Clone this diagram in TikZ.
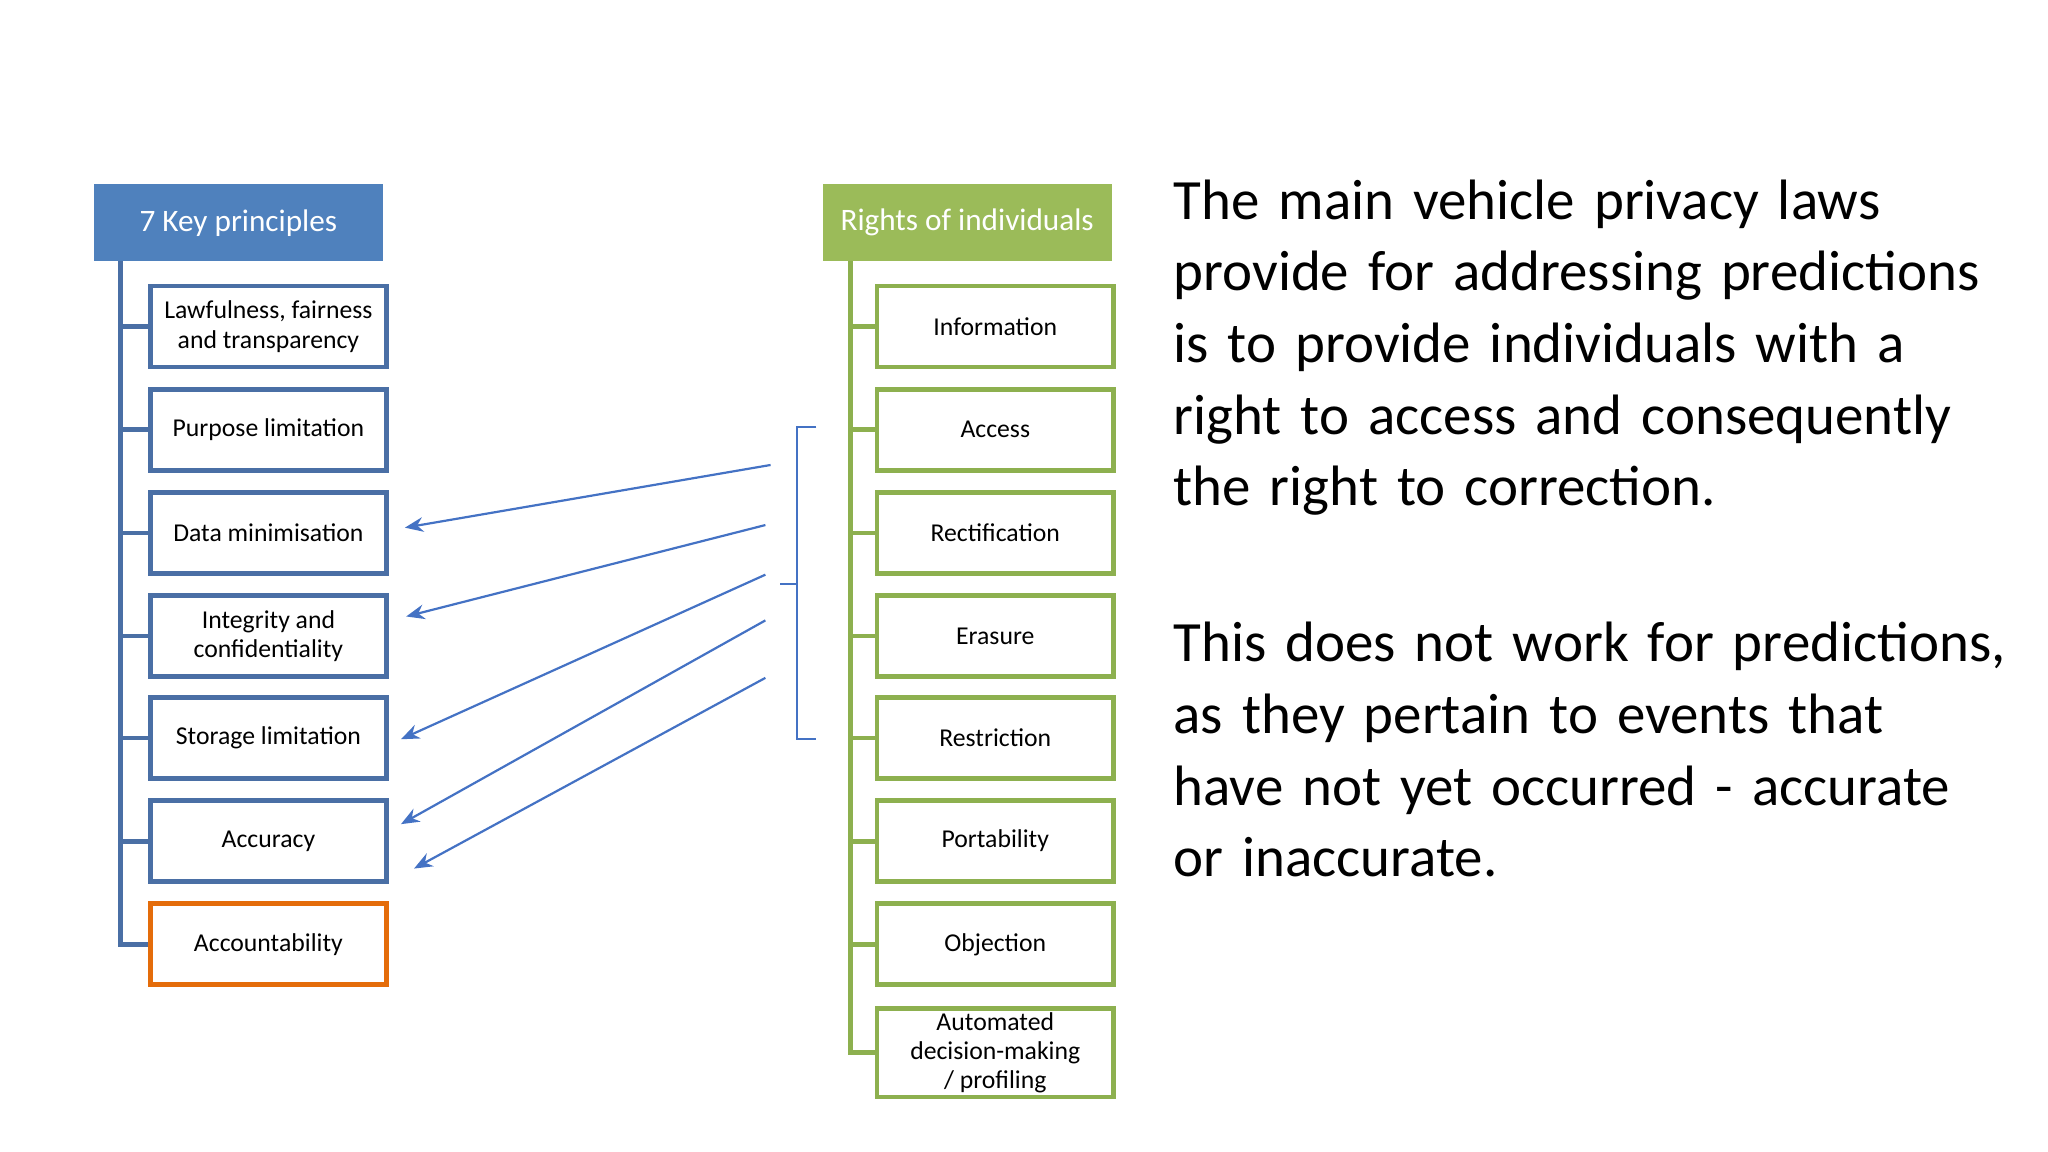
\documentclass[tikz,border=0pt]{standalone}
\usepackage{fontspec}
\setmainfont{Carlito}
\usetikzlibrary{arrows.meta}
\definecolor{hblue}{HTML}{4F81BD}
\definecolor{hgreen}{HTML}{9BBB59}
\definecolor{bord}{HTML}{4A6FA5}
\definecolor{gbord}{HTML}{8DB04F}
\definecolor{obord}{HTML}{E46C0A}
\definecolor{arr}{HTML}{4472C4}
\begin{document}
\begin{tikzpicture}[x=0.0125cm,y=-0.0125cm,
  lbox/.style={draw=bord,line width=1.3pt,minimum width=181*0.0125cm,minimum height=62*0.0125cm,align=center,font=\fontsize{7}{8}\selectfont,inner sep=1pt},
  rbox/.style={lbox,draw=gbord},
  hdr/.style={minimum width=221*0.0125cm,minimum height=59*0.0125cm,text=white,font=\fontsize{8.5}{10}\selectfont,inner sep=0pt},
  tree/.style={line width=1.3pt},
  ar/.style={draw=arr,line width=0.6pt,-{Stealth[length=5pt,width=4pt]}}]
\useasboundingbox (0,0) rectangle (1568,882);
\node[hdr,fill=hblue] (lh) at (182.5,170.5) {7 Key principles};
\node[hdr,fill=hgreen] (rh) at (740.5,170.5) {Rights of individuals};
\foreach \n/\y/\t in {l1/250/{Lawfulness, fairness\\and transparency},l2/329/Purpose limitation,l3/408/Data minimisation,l4/487/{Integrity and\\confidentiality},l5/565/Storage limitation,l6/644/Accuracy}{
  \node[lbox] (\n) at (205.5,\y) {\t};
  \draw[tree,draw=bord] (92,\y) -- (\n.west);}
\node[lbox,draw=obord] (l7) at (205.5,723) {Accountability};
\draw[tree,draw=bord] (92,200) -- (92,723) -- (l7.west);
\foreach \n/\y/\t in {r1/250/Information,r2/329/Access,r3/408/Rectification,r4/487/Erasure,r5/565/Restriction,r6/644/Portability,r7/723/Objection}{
  \node[rbox] (\n) at (762,\y) {\t};
  \draw[tree,draw=gbord] (651,\y) -- (\n.west);}
\node[rbox,minimum height=64*0.0125cm] (r8) at (762,806) {Automated\\decision-making\\/ profiling};
\draw[tree,draw=gbord] (651,200) -- (651,806) -- (r8.west);
\draw[draw=arr,line width=0.6pt] (625,327) -- (610,327) -- (610,566) -- (625,566) (610,447) -- (597,447);
\coordinate (a1) at (590,356); \coordinate (a2) at (586,402); \coordinate (a3) at (586,440);
\coordinate (a4) at (586,475); \coordinate (a5) at (586,519);
\draw[ar] (a1) -- (310,404);
\draw[ar] (a2) -- (311,472);
\draw[ar] (a3) -- (307,566);
\draw[ar] (a4) -- (307,631);
\draw[ar] (a5) -- (317,665);
\node[anchor=north west,inner sep=0pt,text width=640*0.0125cm,font=\fontsize{15.5}{19.5}\selectfont] (txt) at (898,137) {%
\hyphenpenalty=10000\exhyphenpenalty=10000\tolerance=10000\pretolerance=-1\emergencystretch=4em\hbadness=10000
The main vehicle privacy laws provide for addressing predictions is to provide individuals with a right to access and consequently the right to correction.\par\vspace{23pt}
This does not work for predictions, as they pertain to events that have not yet occurred - accurate or inaccurate.\par};
\end{tikzpicture}
\end{document}
